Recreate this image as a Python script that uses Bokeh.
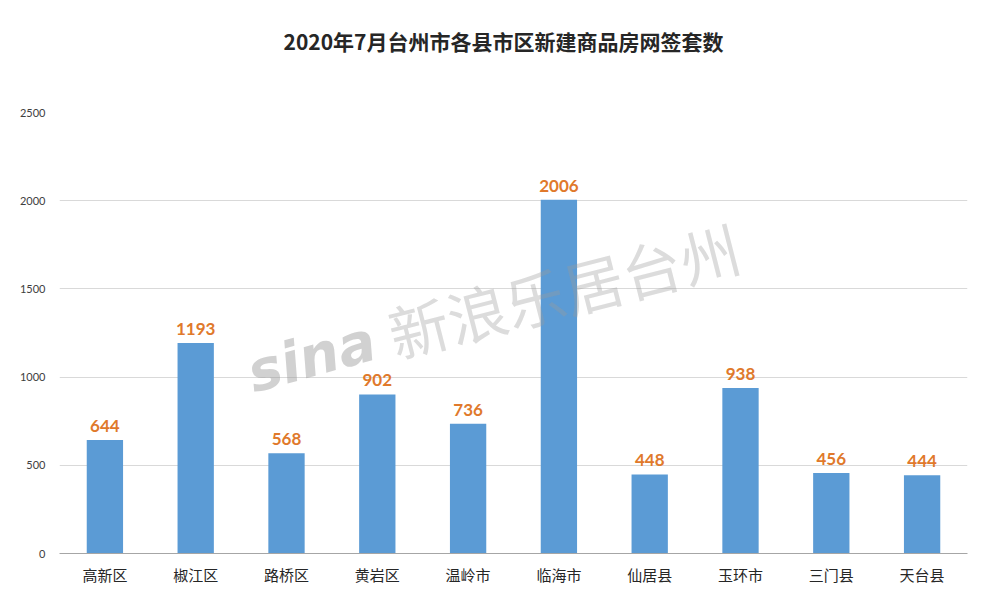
from bokeh.plotting import figure
from bokeh.models import ColumnDataSource, Label, FixedTicker, Range1d
from bokeh.core.properties import value
from bokeh.embed import file_html
from bokeh.resources import INLINE

districts = ["高新区", "椒江区", "路桥区", "黄岩区", "温岭市", "临海市", "仙居县", "玉环市", "三门县", "天台县"]
counts = [644, 1193, 568, 902, 736, 2006, 448, 938, 456, 444]
y_ticks = [0, 500, 1000, 1500, 2000, 2500]
title_text = "2020年7月台州市各县市区新建商品房网签套数"

src = ColumnDataSource(dict(d=districts, c=counts, lbl=[str(v) for v in counts]))

p = figure(x_range=districts, y_range=Range1d(0, 2500), width=975, height=596,
           output_backend="svg", toolbar_location=None,
           min_border_left=59, min_border_right=8, min_border_top=112, min_border_bottom=43)
p.outline_line_color = None
p.background_fill_color = "white"
p.border_fill_color = "white"

p.title.text = title_text + "\n "
p.title.align = "left"
p.title.offset = 224
p.title.vertical_align = "top"
p.title.text_font = "Noto Sans CJK SC"
p.title.text_font_size = "21px"
p.title.text_font_style = "bold"
p.title.text_color = "#262626"
p.title.standoff = 50

p.vbar(x="d", top="c", width=0.4, source=src, color="#5B9BD5", line_color=None)
p.text(x="d", y="c", text="lbl", source=src, text_align="center", text_baseline="bottom",
       y_offset=-8, text_font_size="17px", text_font_style="bold", text_color="#E0792B",
       text_font=value("Lato"))

p.xgrid.grid_line_color = None
p.ygrid.grid_line_color = "#D9D9D9"
p.ygrid.ticker = FixedTicker(ticks=y_ticks)
p.yaxis.ticker = FixedTicker(ticks=y_ticks)
p.yaxis.axis_line_color = None
p.yaxis.major_tick_line_color = None
p.yaxis.minor_tick_line_color = None
p.yaxis.major_label_text_font = "Lato"
p.yaxis.major_label_text_font_size = "11px"
p.yaxis.major_label_text_color = "#404040"
p.yaxis.major_label_standoff = 8

p.xaxis.axis_line_color = "#A6A6A6"
p.xaxis.major_tick_line_color = None
p.xaxis.minor_tick_line_color = None
p.xaxis.major_label_text_font = "Noto Sans CJK SC"
p.xaxis.major_label_text_font_size = "15px"
p.xaxis.major_label_text_color = "#262626"
p.xaxis.major_label_standoff = 4

# watermark
p.add_layout(Label(x=2.18, y=840, text="sina", text_align="left", text_baseline="bottom",
                   angle=0.27, text_font="DejaVu Sans", text_font_size="56px",
                   text_font_style="bold italic", text_color="#9A9A9A", text_alpha=0.45))
p.add_layout(Label(x=3.75, y=1010, text="新浪乐居台州", text_align="left", text_baseline="bottom",
                   angle=0.25, text_font="Noto Sans CJK SC", text_font_size="60px",
                   text_color="#9A9A9A", text_alpha=0.35))

open("out.html", "w").write(file_html(p, INLINE))
